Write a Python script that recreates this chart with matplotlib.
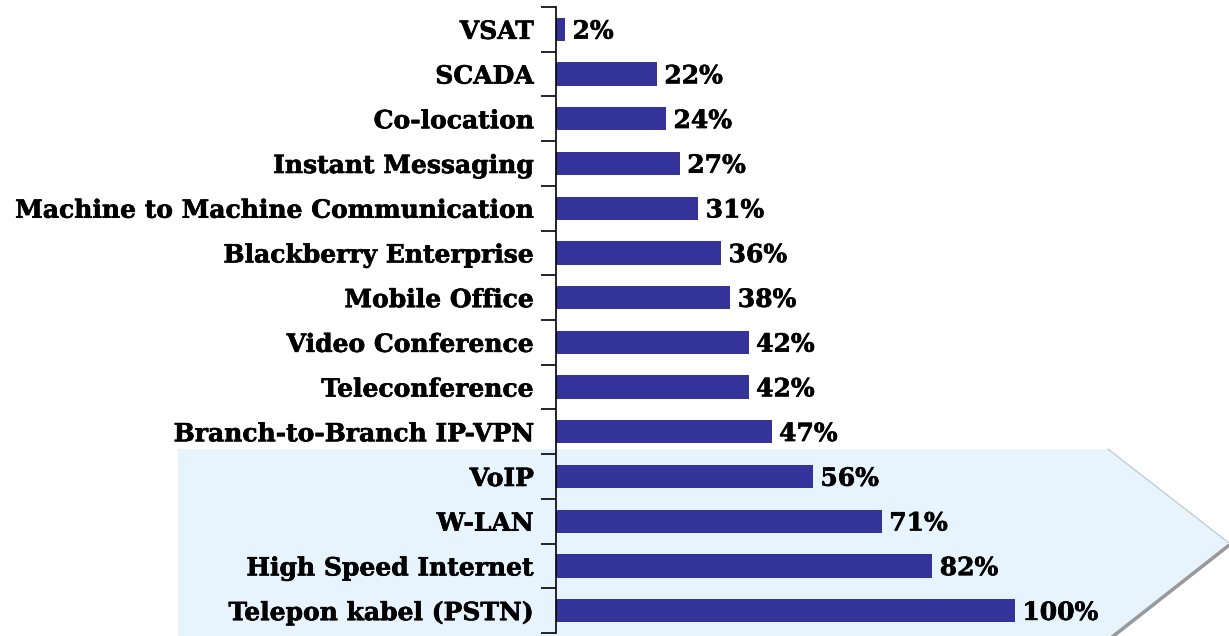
import matplotlib.pyplot as plt
import matplotlib.patheffects as pe
from matplotlib.patches import Polygon

# data
categories = ['VSAT', 'SCADA', 'Co-location', 'Instant Messaging',
              'Machine to Machine Communication', 'Blackberry Enterprise',
              'Mobile Office', 'Video Conference', 'Teleconference',
              'Branch-to-Branch IP-VPN', 'VoIP', 'W-LAN',
              'High Speed Internet', 'Telepon kabel (PSTN)']
values = [2, 22, 24, 27, 31, 36, 38, 42, 42, 47, 56, 71, 82, 100]
value_labels = [f'{v}%' for v in values]

W, H = 1229, 636
bar_color = '#333399'
bold = [pe.withStroke(linewidth=0.45, foreground='black')]
font = dict(family='DejaVu Serif', weight='bold', size=18)

fig = plt.figure(figsize=(W / 100, H / 100), dpi=100)

# light blue arrow behind the top-4 group (pixel coords -> figure fraction)
def px(pts):
    return [(x / W, 1 - y / H) for x, y in pts]

arrow = [(178, 449), (1108, 449), (1229, 543), (1108, 638), (178, 638)]
shadow = [(x + 2, y + 3) for x, y in arrow]
fig.add_artist(Polygon(px(shadow), closed=True, transform=fig.transFigure,
                       facecolor='#9a9a9a', edgecolor='none', zorder=0))
fig.add_artist(Polygon(px(arrow), closed=True, transform=fig.transFigure,
                       facecolor='#e8f4fd', edgecolor='none', zorder=0.5))
fig.add_artist(plt.Line2D(*zip(*px(arrow[1:3])), transform=fig.transFigure,
                          color='#b8c4cc', lw=0.8, zorder=0.6))

ax = fig.add_axes([556 / W, 3 / H, (W - 556) / W, (633 - 7) / H])
ax.set_facecolor('none')
ax.set_zorder(1)

y = list(range(len(categories)))
ax.barh(y, values, height=0.52, color=bar_color)
for yi, v, lab in zip(y, values, value_labels):
    ax.text(v + 1.6, yi + 0.05, lab, va='center', ha='left',
            path_effects=bold, **font)

ax.set_xlim(0, 100 * (W - 556) / 459)
ax.set_ylim(len(categories) - 0.5, -0.5)

ax.set_yticks(y)
ax.set_yticklabels(categories, fontdict=font)
for t in ax.get_yticklabels():
    t.set_path_effects(bold)
ax.tick_params(axis='y', which='major', length=0, pad=16)
ax.set_yticks([k - 0.5 for k in range(len(categories) + 1)], minor=True)
ax.tick_params(axis='y', which='minor', length=11, width=1.2, direction='out')
ax.set_xticks([])
for s in ['top', 'right', 'bottom']:
    ax.spines[s].set_visible(False)
ax.spines['left'].set_linewidth(1.2)

fig.savefig('out.png', dpi=100)
